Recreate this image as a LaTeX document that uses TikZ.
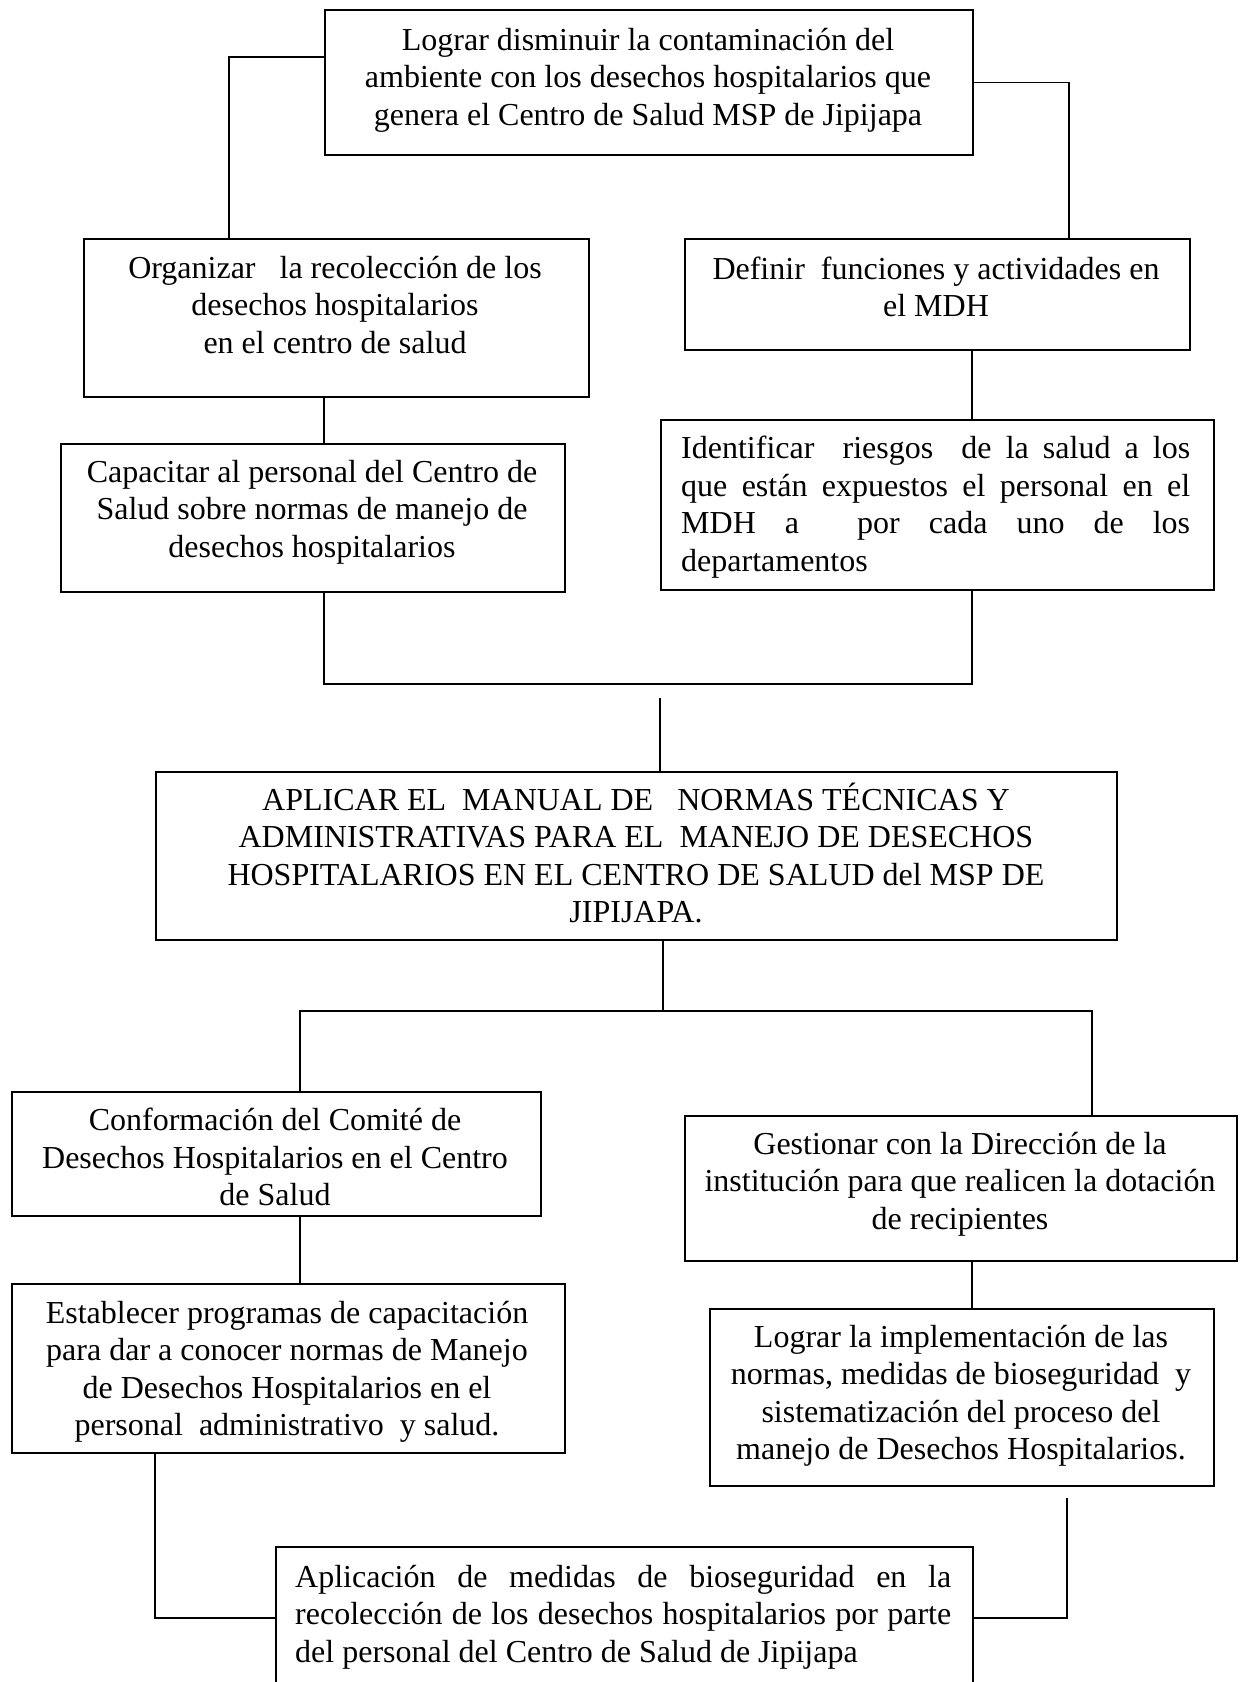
\documentclass[tikz,border=0pt]{standalone}
\usepackage{fontspec}
\setmainfont{Liberation Serif}
\newcommand{\jl}[2]{\makebox[#1][s]{\spaceskip=0.12em plus 10em\relax #2}}
\tikzset{
 box/.style={draw, line width=1.8pt, inner sep=0pt, anchor=north west},
 txt/.style={inner sep=0pt, font=\fontsize{32}{37.5}\selectfont, align=center},
 conn/.style={line width=1.3pt},
}
\begin{document}
\begin{tikzpicture}[x=1pt,y=-1pt]
\clip (0,0) rectangle (1243,1682);
\fill[white] (0,0) rectangle (1243,1682);
% boxes
\node[box, minimum width=648pt, minimum height=145pt] (b1) at (324,9) {};
\node[box, minimum width=505pt, minimum height=158pt] (b2) at (83,238) {};
\node[box, minimum width=505pt, minimum height=111pt] (b3) at (684,238) {};
\node[box, minimum width=504pt, minimum height=148pt] (b4) at (60,443) {};
\node[box, minimum width=553pt, minimum height=170pt] (b5) at (660,419) {};
\node[box, minimum width=961pt, minimum height=168pt] (b6) at (155,771) {};
\node[box, minimum width=529pt, minimum height=124pt] (b7) at (11,1091) {};
\node[box, minimum width=552pt, minimum height=145pt] (b8) at (684,1115) {};
\node[box, minimum width=553pt, minimum height=169pt] (b9) at (11,1283) {};
\node[box, minimum width=504pt, minimum height=177pt] (b10) at (709,1308) {};
\node[box, minimum width=697pt, minimum height=170pt] (b11) at (275,1546) {};
% texts
\node[txt] (t1) at (648,80) {Lograr disminuir la contaminación del\\ambiente con los desechos hospitalarios que\\genera el Centro de Salud MSP de Jipijapa};
\node[txt] (t2) at (335,305) {Organizar\ \ \ la recolección de los\\desechos hospitalarios\\en el centro de salud};
\node[txt] (t3) at (936,287) {Definir\ \ funciones y actividades en\\el MDH};
\node[txt] (t4) at (312,512) {Capacitar al personal del Centro de\\Salud sobre normas de manejo de\\desechos hospitalarios};
\node[txt, align=left, anchor=west] (t5) at (681,507) {\jl{509pt}{Identificar\ \ riesgos\ \ de la salud a los}\\\jl{509pt}{que están expuestos el personal en el}\\\jl{509pt}{MDH\ \ a\ \ \ \ por\ \ cada\ \ uno\ \ de\ \ los}\\departamentos};
\node[txt] (t6) at (636,853) {APLICAR EL\ \ MANUAL DE\ \ \ NORMAS TÉCNICAS Y\\ADMINISTRATIVAS PARA EL\ \ MANEJO DE DESECHOS\\HOSPITALARIOS EN EL CENTRO DE SALUD del MSP DE\\JIPIJAPA.};
\node[txt] (t7) at (275,1157) {Conformación del Comité de\\Desechos Hospitalarios en el Centro\\de Salud};
\node[txt] (t8) at (960,1184) {Gestionar con la Dirección de la\\institución para que realicen la dotación\\de recipientes};
\node[txt] (t9) at (287,1372) {Establecer programas de capacitación\\para dar a conocer normas de Manejo\\de Desechos Hospitalarios en el\\personal\ \ administrativo\ \ y salud.};
\node[txt] (t10) at (961,1396) {Lograr la implementación de las\\normas, medidas de bioseguridad\ \ y\\sistematización del proceso del\\manejo de Desechos Hospitalarios.};
\node[txt, align=left, anchor=west] (t11) at (295,1617) {\jl{656pt}{Aplicación de medidas de bioseguridad en la}\\\jl{656pt}{recolección de los desechos hospitalarios por parte}\\del personal del Centro de Salud de Jipijapa};
% junction coordinates
\coordinate (j1) at (660,684);
\coordinate (m1) at (660,698);
\coordinate (j2) at (663,1011);
\coordinate (r1) at (1067,1498);
% connectors
\draw[conn] (b1.west |- 0,57) -| (229,0 |- b2.north);
\draw[conn] (b1.east) -| (1069,0 |- b3.north);
\draw[conn] (324,0 |- b2.south) -- (324,0 |- b4.north);
\draw[conn] (972,0 |- b3.south) -- (972,0 |- b5.north);
\draw[conn] (324,0 |- b4.south) |- (j1) -| (972,0 |- b5.south);
\draw[conn] (m1) -- (660,0 |- b6.north);
\draw[conn] (663,0 |- b6.south) -- (j2);
\draw[conn] (300,0 |- b7.north) |- (j2) -| (1092,0 |- b8.north);
\draw[conn] (300,0 |- b7.south) -- (300,0 |- b9.north);
\draw[conn] (972,0 |- b8.south) -- (972,0 |- b10.north);
\draw[conn] (155,0 |- b9.south) |- (b11.west |- 0,1618);
\draw[conn] (r1) |- (b11.east |- 0,1618);
\end{tikzpicture}
\end{document}
